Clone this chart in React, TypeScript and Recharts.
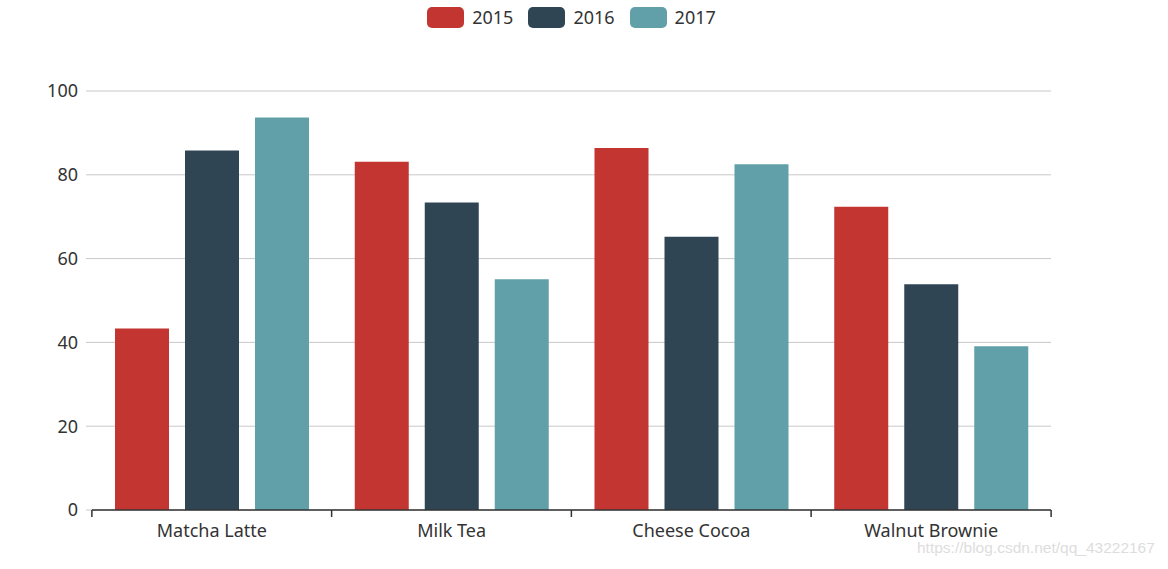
import React from "react";
import { BarChart, Bar, XAxis, YAxis, CartesianGrid, Legend } from "recharts";

const products = ["Matcha Latte", "Milk Tea", "Cheese Cocoa", "Walnut Brownie"];
const years = ["2015", "2016", "2017"];
const sales2015 = [43.3, 83.1, 86.4, 72.4];
const sales2016 = [85.8, 73.4, 65.2, 53.9];
const sales2017 = [93.7, 55.1, 82.5, 39.1];
const yTicks = [0, 20, 40, 60, 80, 100];

const COLORS = ["#c23531", "#2f4554", "#61a0a8"];
const FONT = "'Noto Sans', 'Open Sans', sans-serif";

const data = products.map((product, i) => ({
  product,
  "2015": sales2015[i],
  "2016": sales2016[i],
  "2017": sales2017[i],
}));

const BAND = 240;

const CategoryTick = ({ x, y, payload, index }: any) => {
  const left = x - BAND / 2;
  return (
    <g>
      <line x1={left} y1={y - 8} x2={left} y2={y - 1} stroke="#333" strokeWidth={1.5} />
      {index === products.length - 1 && (
        <line x1={left + BAND} y1={y - 8} x2={left + BAND} y2={y - 1} stroke="#333" strokeWidth={1.5} />
      )}
      <text x={x} y={y + 19} textAnchor="middle" fill="#333" fontSize={18} fontFamily={FONT}>
        {payload.value}
      </text>
    </g>
  );
};

const LegendContent = () => (
  <div style={{ display: "flex", justifyContent: "center", alignItems: "center", fontFamily: FONT }}>
    {years.map((y, i) => (
      <div key={y} style={{ display: "flex", alignItems: "center", marginRight: i < years.length - 1 ? 15 : 0 }}>
        <div style={{ width: 37, height: 21, borderRadius: 5, background: COLORS[i], marginRight: 8 }} />
        <span style={{ fontSize: 18, color: "#333" }}>{y}</span>
      </div>
    ))}
  </div>
);

export default function App() {
  return (
    <div style={{ position: "absolute", left: 0, top: 0, width: 1168, height: 569, background: "#fff" }}>
      <BarChart
        width={1168}
        height={569}
        data={data}
        margin={{ top: 67, right: 117, bottom: 29, left: 32 }}
        barCategoryGap={23}
        barGap={16}
      >
        <Legend
          verticalAlign="top"
          align="center"
          content={<LegendContent />}
          wrapperStyle={{ top: 5, left: 0, width: 1143 }}
        />
        <CartesianGrid vertical={false} stroke="#c8c8c8" />
        <XAxis
          dataKey="product"
          height={30}
          axisLine={{ stroke: "#333", strokeWidth: 1.5 }}
          tickLine={false}
          tick={<CategoryTick />}
          interval={0}
        />
        <YAxis
          width={60}
          domain={[0, 100]}
          ticks={yTicks}
          axisLine={false}
          tickLine={{ stroke: "#c8c8c8" }}
          tickSize={6}
          tickMargin={8}
          tick={{ fill: "#333", fontSize: 18, fontFamily: FONT }}
        />
        {years.map((y, i) => (
          <Bar key={y} dataKey={y} fill={COLORS[i]} isAnimationActive={false} />
        ))}
      </BarChart>
      <div
        style={{
          position: "absolute",
          left: 917,
          top: 539,
          fontSize: 15.5,
          color: "#ddd",
          fontFamily: "'Liberation Sans', Arial, sans-serif",
        }}
      >
        https://blog.csdn.net/qq_43222167
      </div>
    </div>
  );
}
